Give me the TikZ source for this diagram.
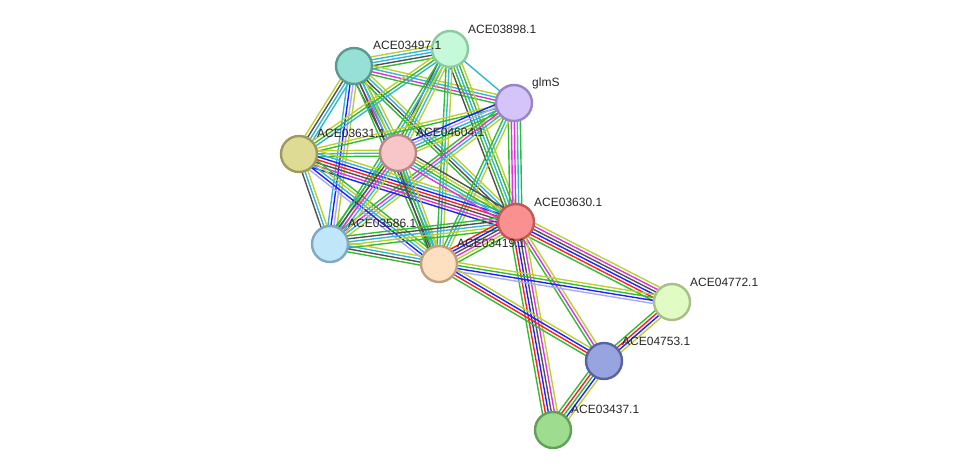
\documentclass[tikz,border=0pt]{standalone}
\usepackage{fontspec}
\setmainfont{Liberation Sans}
\usetikzlibrary{calc}
\pgfdeclarelayer{edges}
\pgfsetlayers{edges,main}
\definecolor{snb}{HTML}{33BB33}
\definecolor{sfu}{HTML}{FF2020}
\definecolor{sco}{HTML}{2020FF}
\definecolor{sce}{HTML}{505050}
\definecolor{sex}{HTML}{DD33DD}
\definecolor{sdb}{HTML}{33B5D8}
\definecolor{stm}{HTML}{BCD030}
\definecolor{sho}{HTML}{A8A8FF}
\definecolor{f497}{HTML}{97E0D6}\definecolor{d497}{HTML}{5A9A92}
\definecolor{f898}{HTML}{C5F9D8}\definecolor{d898}{HTML}{8CCAA0}
\definecolor{fglm}{HTML}{D4C4FA}\definecolor{dglm}{HTML}{9A84C8}
\definecolor{f631}{HTML}{DEDB94}\definecolor{d631}{HTML}{A09A5A}
\definecolor{f604}{HTML}{F8C6C6}\definecolor{d604}{HTML}{B88888}
\definecolor{f630}{HTML}{FA9090}\definecolor{d630}{HTML}{C05858}
\definecolor{f586}{HTML}{C0E6FA}\definecolor{d586}{HTML}{80A8C0}
\definecolor{f419}{HTML}{FDE0C0}\definecolor{d419}{HTML}{C0A080}
\definecolor{f772}{HTML}{E0FCC4}\definecolor{d772}{HTML}{A8C088}
\definecolor{f753}{HTML}{98A4E0}\definecolor{d753}{HTML}{5864A0}
\definecolor{f437}{HTML}{9EDC90}\definecolor{d437}{HTML}{60A058}
\tikzset{
  prot/.style={circle, minimum size=36pt, inner sep=0pt, line width=2.4pt},
  plabel/.style={font=\fontsize{12pt}{14pt}\selectfont, text=black!85, inner sep=0pt, anchor=west},
  edgeline/.style={line width=1.4pt}
}
\newcommand\myedge[4]{%
  \foreach \col [count=\i] in {#4}{%
    \pgfmathsetmacro\off{(\i-(#3+1)/2)*3.0}%
    \draw[\col,edgeline] ($(#1.center)!\off pt!90:(#2.center)$) -- ($(#2.center)!\off pt!-90:(#1.center)$);
  }}
\begin{document}
\begin{tikzpicture}[x=1pt,y=-1pt]
\useasboundingbox (0,0) rectangle (975,475);
% nodes
\node[prot, fill=f497, draw=d497] (a497) at (354,66) {};
\node[prot, fill=f898, draw=d898] (a898) at (450,49) {};
\node[prot, fill=fglm, draw=dglm] (glms) at (514,103) {};
\node[prot, fill=f631, draw=d631] (a631) at (299,154) {};
\node[prot, fill=f604, draw=d604] (a604) at (398,153) {};
\node[prot, fill=f630, draw=d630] (a630) at (516,222) {};
\node[prot, fill=f586, draw=d586] (a586) at (330,244) {};
\node[prot, fill=f419, draw=d419] (a419) at (439,264) {};
\node[prot, fill=f772, draw=d772] (a772) at (672,302) {};
\node[prot, fill=f753, draw=d753] (a753) at (604,361) {};
\node[prot, fill=f437, draw=d437] (a437) at (553,430) {};
% labels
\node[plabel] (l497) at (373,45) {ACE03497.1};
\node[plabel] (l898) at (468,29) {ACE03898.1};
\node[plabel] (lglm) at (532,83) {glmS};
\node[plabel] (l631) at (317,133) {ACE03631.1};
\node[plabel] (l604) at (416,132) {ACE04604.1};
\node[plabel] (l630) at (534,202) {ACE03630.1};
\node[plabel] (l586) at (348,223) {ACE03586.1};
\node[plabel] (l419) at (457,243) {ACE03419.1};
\node[plabel] (l772) at (690,282) {ACE04772.1};
\node[plabel] (l753) at (622,341) {ACE04753.1};
\node[plabel] (l437) at (571,409) {ACE03437.1};
% edges
\begin{pgfonlayer}{edges}
\myedge{a497}{a898}{5}{snb,sce,sdb,sdb,stm}
\myedge{a497}{glms}{4}{snb,sex,sdb,stm}
\myedge{a898}{glms}{1}{sdb}
\myedge{a497}{a631}{4}{stm,sce,sdb,sdb}
\myedge{a497}{a586}{4}{sdb,sco,sho,stm}
\myedge{a497}{a604}{5}{sce,sex,snb,sdb,stm}
\myedge{a497}{a630}{4}{snb,sce,sdb,stm}
\myedge{a497}{a419}{4}{snb,sce,sdb,stm}
\myedge{a898}{a631}{3}{stm,snb,sdb}
\myedge{a898}{a604}{4}{sce,snb,sdb,stm}
\myedge{a898}{a630}{5}{sce,snb,sdb,snb,stm}
\myedge{a898}{a586}{3}{snb,sdb,stm}
\myedge{a898}{a419}{3}{snb,sdb,stm}
\myedge{glms}{a631}{2}{stm,snb}
\myedge{glms}{a604}{5}{sco,sho,sdb,snb,stm}
\myedge{glms}{a630}{5}{snb,sex,sex,sdb,snb}
\myedge{glms}{a586}{4}{snb,sex,sdb,stm}
\myedge{glms}{a419}{3}{snb,sdb,stm}
\myedge{a631}{a604}{3}{snb,sdb,stm}
\myedge{a631}{a630}{7}{sco,sex,sce,sfu,sco,sdb,stm}
\myedge{a631}{a586}{3}{sce,sdb,stm}
\myedge{a631}{a419}{5}{sho,sco,sdb,stm,snb}
\myedge{a604}{a630}{5}{sex,sdb,snb,stm,sce}
\myedge{a604}{a586}{5}{snb,sce,sex,sdb,stm}
\myedge{a604}{a419}{4}{sce,snb,sdb,stm}
\myedge{a630}{a586}{5}{snb,sce,sdb,stm,snb}
\myedge{a630}{a419}{6}{sfu,sco,sce,sex,stm,snb}
\myedge{a586}{a419}{4}{snb,sce,sdb,stm}
\myedge{a630}{a772}{6}{snb,sfu,sco,sce,sex,stm}
\myedge{a630}{a753}{3}{snb,sex,stm}
\myedge{a630}{a437}{6}{snb,sfu,sco,sce,sex,stm}
\myedge{a419}{a772}{4}{sho,sco,snb,stm}
\myedge{a419}{a753}{4}{snb,sfu,sco,stm}
\myedge{a772}{a753}{4}{snb,sfu,sco,stm}
\myedge{a753}{a437}{5}{snb,sfu,snb,sco,stm}
\end{pgfonlayer}
\end{tikzpicture}
\end{document}
